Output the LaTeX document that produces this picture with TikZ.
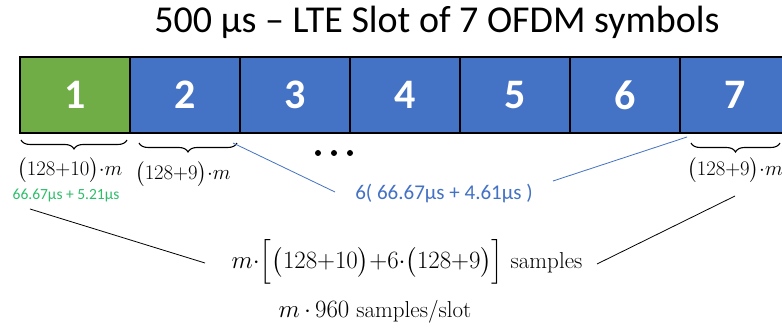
\documentclass[tikz,border=0pt]{standalone}
\usepackage{fontspec}
\usepackage{amsmath}
\usetikzlibrary{decorations.pathreplacing}
\newfontfamily\carlito{Carlito}
\definecolor{symgreen}{HTML}{70AD47}
\definecolor{symblue}{HTML}{4472C4}
\definecolor{txtgreen}{HTML}{2EBD6B}
\definecolor{txtblue}{HTML}{4472C4}
\begin{document}
\begin{tikzpicture}[x=1pt,y=-1pt,
  sym/.style={draw=black, line width=1.7pt, minimum width=110pt, minimum height=76pt,
    text=white, inner sep=0pt, font=\carlito\bfseries\fontsize{42}{42}\selectfont},
  brc/.style={decorate, decoration={brace, mirror, amplitude=9pt}, line width=1.1pt},
  mathlbl/.style={font=\fontsize{19.5}{21}\selectfont, inner sep=1pt},
  bigmath/.style={font=\fontsize{23}{26}\selectfont, inner sep=1pt},
  dot/.style={circle, fill=black, minimum size=6pt, inner sep=0pt},
  conn/.style={line width=0.8pt}]
\clip (0,0) rectangle (782,328);
\fill[white] (0,0) rectangle (782,328);
\node[font=\carlito\fontsize{38}{40}\selectfont] (title) at (437,22) {500 μs – LTE Slot of 7 OFDM symbols};
\node[sym, fill=symgreen] (s1) at (75,95) {1};
\node[sym, fill=symblue] (s2) at (185,95) {2};
\node[sym, fill=symblue] (s3) at (295,95) {3};
\node[sym, fill=symblue] (s4) at (405,95) {4};
\node[sym, fill=symblue] (s5) at (515,95) {5};
\node[sym, fill=symblue] (s6) at (625,95) {6};
\node[sym, fill=symblue] (s7) at (735,95) {7};
% braces
\draw[brc] (21,140) -- (127,140);
\draw[brc] (139,143) -- (237,143);
\draw[brc] (691,143) -- (780,143);
\node[mathlbl] (l1) at (70,170) {$\bigl(128{+}10\bigr){\cdot} m$};
\node[mathlbl] (l2) at (183,174) {$\bigl(128{+}9\bigr){\cdot} m$};
\node[mathlbl] (l7) at (735,170) {$\bigl(128{+}9\bigr){\cdot} m$};
\node[font=\carlito\fontsize{15.5}{17}\selectfont, text=txtgreen] (g1) at (66,196) {66.67μs + 5.21μs};
\node[dot] (d1) at (318,153) {};
\node[dot] (d2) at (334,153) {};
\node[dot] (d3) at (350,153) {};
\node[font=\carlito\fontsize{21}{22}\selectfont, text=txtblue] (b6) at (444,194) {6( 66.67μs + 4.61μs )};
\coordinate (bl1) at (233,143);
\coordinate (bl2) at (335,192);
\coordinate (br1) at (553,181);
\coordinate (br2) at (687,137);
\draw[symblue, conn] (bl1) -- (bl2);
\draw[symblue, conn] (br1) -- (br2);
\node[bigmath] (f1) at (407,262) {$m{\cdot}\Bigl[\bigl(128{+}10\bigr){+}6{\cdot}\bigl(128{+}9\bigr)\Bigr]$ samples};
\node[bigmath] (f2) at (375,312) {$m\,{\cdot}\,960$ samples/slot};
\coordinate (kl1) at (30,209);
\coordinate (kl2) at (205,263);
\coordinate (kr1) at (597,264);
\coordinate (kr2) at (735,196);
\draw[conn] (kl1) -- (kl2);
\draw[conn] (kr1) -- (kr2);
\end{tikzpicture}
\end{document}
